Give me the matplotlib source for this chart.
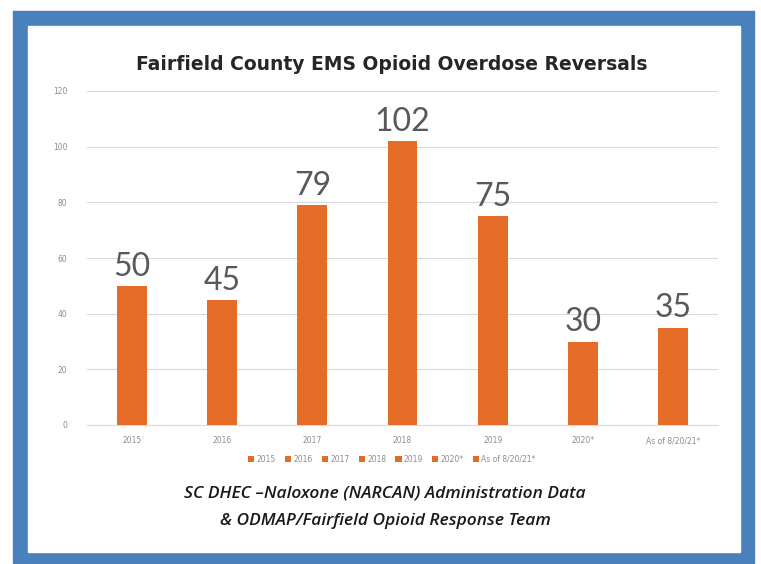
import matplotlib.pyplot as plt
from matplotlib.patches import Rectangle
import numpy as np

# data
categories = ['2015', '2016', '2017', '2018', '2019', '2020*', 'As of 8/20/21*']
reversals = [50, 45, 79, 102, 75, 30, 35]
y_ticks = [0, 20, 40, 60, 80, 100, 120]

BAR_COLOR = '#E46C27'
FRAME_COLOR = '#4A81BD'
TICK_COLOR = '#8C8C8C'
LABEL_COLOR = '#595959'

W, H = 761, 564
fig = plt.figure(figsize=(W / 100, H / 100), dpi=100)

# blue frame around the slide
fig.patches.append(Rectangle((13 / W, 1 - 563 / H), (754 - 13) / W, (563 - 11) / H,
                             transform=fig.transFigure, color=FRAME_COLOR, zorder=-2))
fig.patches.append(Rectangle((28 / W, 1 - 552 / H), (740 - 28) / W, (552 - 26) / H,
                             transform=fig.transFigure, color='white', zorder=-1))

ax = fig.add_axes([87 / W, 1 - 425 / H, (718 - 87) / W, (425 - 91) / H])
ax.set_zorder(2)
ax.set_facecolor('none')

x = np.arange(len(categories))
for xi, cat, val in zip(x, categories, reversals):
    ax.bar(xi, val, width=0.33, color=BAR_COLOR, label=cat, zorder=3)
    ax.text(xi, val + 1.5, str(val), ha='center', va='bottom',
            fontsize=23, color=LABEL_COLOR, family='Lato')

ax.set_xlim(-0.5, len(categories) - 0.5)
ax.set_ylim(0, 120)
ax.set_yticks(y_ticks)
ax.set_yticklabels([str(t) for t in y_ticks], fontsize=5.5, color=TICK_COLOR)
ax.set_xticks(x)
ax.set_xticklabels(categories, fontsize=5.5, color=TICK_COLOR)
ax.tick_params(length=0, pad=8)
ax.tick_params(axis='y', pad=14)
ax.grid(axis='y', color='#D9D9D9', linewidth=0.8, zorder=0)
ax.axhline(0, color='#D9D9D9', linewidth=0.8, zorder=1, clip_on=False)
for s in ax.spines.values():
    s.set_visible(False)

ax.set_title('Fairfield County EMS Opioid Overdose Reversals', fontsize=13.5,
             fontweight='bold', color='#262626', pad=15, x=(392 - 87) / (718 - 87))

handles, labels = ax.get_legend_handles_labels()
fig.legend(handles, labels, loc='center', bbox_to_anchor=(392 / W, 1 - 459 / H),
           ncol=7, fontsize=5.5, frameon=False, handlelength=0.8, handleheight=0.8,
           handletextpad=0.3, columnspacing=1.2, labelcolor=TICK_COLOR)

cap_font = ['Open Sans']
fig.text(385 / W, 1 - 494 / H, 'SC DHEC \u2013Naloxone (NARCAN) Administration Data',
         ha='center', va='center', fontsize=12.5, style='italic', fontweight='semibold',
         family=cap_font, color='#1A1A1A')
fig.text(385 / W, 1 - 521 / H, '& ODMAP/Fairfield Opioid Response Team',
         ha='center', va='center', fontsize=12.5, style='italic', fontweight='semibold',
         family=cap_font, color='#1A1A1A')

plt.savefig('out.png', dpi=100)
